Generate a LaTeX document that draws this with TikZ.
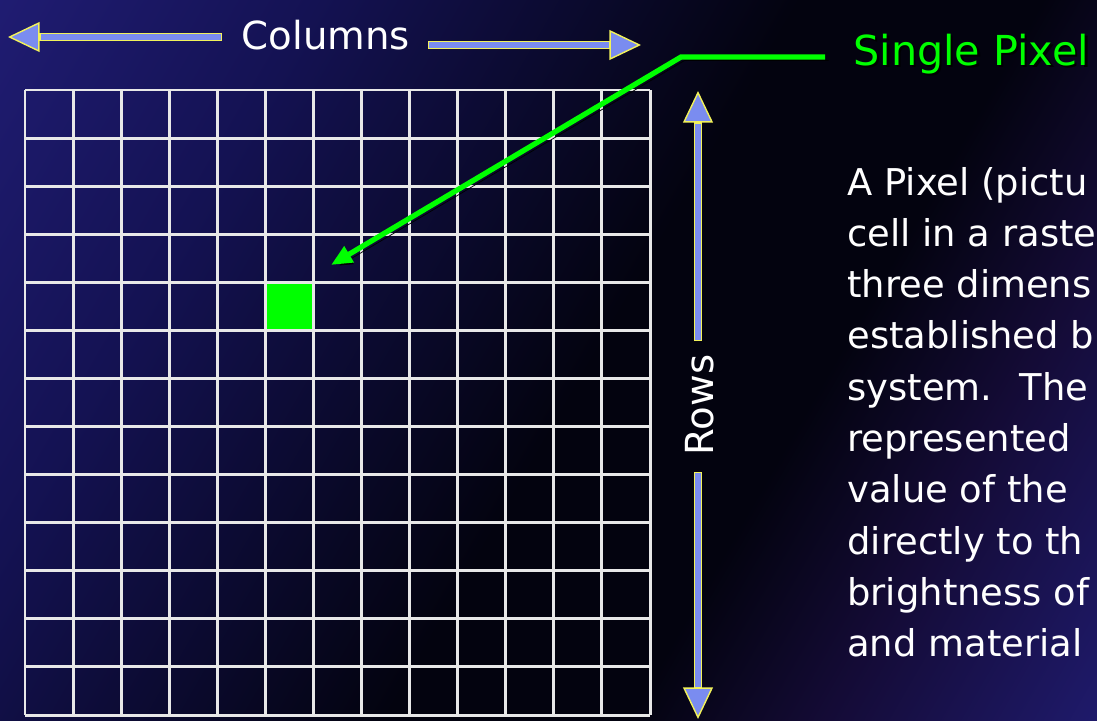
\documentclass[tikz,border=0pt]{standalone}
\usepackage{fontspec}
\setmainfont{DejaVu Sans}
\usetikzlibrary{arrows.meta, calc, positioning}
\definecolor{bgNavy}{HTML}{24207E}
\definecolor{bgMid}{HTML}{141253}
\definecolor{bgDeep}{HTML}{03030F}
\definecolor{bgPurp}{HTML}{140B36}
\definecolor{bgEnd}{HTML}{201C72}
\definecolor{gridWhite}{HTML}{E8E8E8}
\definecolor{pixGreen}{HTML}{00FF00}
\definecolor{arrBlue}{HTML}{7A8CF0}
\definecolor{arrYellow}{HTML}{F2F25A}
\pgfdeclarehorizontalshading{slidebg}{100bp}{color(0bp)=(bgNavy); color(10bp)=(bgNavy); color(30bp)=(bgMid); color(52bp)=(bgDeep); color(63bp)=(bgDeep); color(72bp)=(bgPurp); color(86bp)=(bgEnd); color(100bp)=(bgEnd)}
\tikzset{
  fatarrow/.style  = {arrYellow, line width=4.8pt,
                      -{Triangle[length=18pt, width=17pt, fill=arrBlue, line width=0.8pt]},
                      postaction={draw=arrBlue, line width=3.2pt, -, shorten >=18.5pt, shorten <=0.8pt}},
  gridline/.style  = {gridWhite, line width=1.7pt},
  pixcell/.style   = {fill=pixGreen, minimum size=0.96cm, inner sep=0pt},
  pointer/.style   = {pixGreen, line width=3pt, line join=miter,
                      -{Triangle[length=12pt, width=10pt]},
                      preaction={draw=black, transform canvas={shift={(2pt,-2pt)}}}},
  bigtxt/.style    = {font=\fontsize{22}{26}\selectfont, white, inner sep=0pt},
  greentxt/.style  = {font=\fontsize{23.5}{28}\selectfont, pixGreen, inner sep=0pt},
  para/.style      = {font=\fontsize{21}{29}\selectfont, white, inner sep=0pt, anchor=base west},
}

\begin{document}
\begin{tikzpicture}[x=0.02cm, y=-0.02cm]
\useasboundingbox (0,0) rectangle (1097,720);
\clip (0,0) rectangle (1097,720);
\shade[shading=slidebg, shading angle=-30] (0,0) rectangle (1097,720);

% ---- the raster: 13 x 13 cells, one of them lit ---------------------------
\node[pixcell] (pix) at (289.4,306.3) {};
\foreach \k in {0,...,13} {
  \draw[gridline] (25+\k*48.077,90) -- (25+\k*48.077,715);
  \draw[gridline] (25,90+\k*48.077) -- (650,90+\k*48.077);
}

% ---- columns across the top ---------------------------------------------
\node[bigtxt, anchor=base] (cols) at (326,49) {Columns};
\coordinate (colLtail) at (222,37);
\coordinate (colLtip)  at (8,37);
\coordinate (colRtail) at (428,45);
\coordinate (colRtip)  at (641,45);
\draw[fatarrow] (colLtail) -- (colLtip);
\draw[fatarrow] (colRtail) -- (colRtip);

% ---- rows down the side ---------------------------------------------------
\node[bigtxt, rotate=90] (rows) at (700,405) {Rows};
\coordinate (rowUtail) at (698,341);
\coordinate (rowUtip)  at (698,91);
\coordinate (rowDtail) at (698,472);
\coordinate (rowDtip)  at (698,719);
\draw[fatarrow] (rowUtail) -- (rowUtip);
\draw[fatarrow] (rowDtail) -- (rowDtip);

% ---- single pixel call-out ------------------------------------------------
\node[greentxt, black, anchor=base west] (singleShadow) at (855.5,67.5) {Single Pixel};
\node[greentxt, anchor=base west] (single) at (853,65) {Single Pixel};
\coordinate (lead)   at (825,57);
\coordinate (knee)   at (681,57);
\coordinate (pixtip) at (331,265);
\draw[pointer] (lead) -- (knee) -- (pixtip);

% ---- explanation, running off the right edge -----------------------------
\foreach \t [count=\i from 0] in {A Pixel (pictu, cell in a raste, three dimens,
    established b, system.~ The, represented, value of the, directly to th,
    brightness of, and material} {
  \node[para] (line\i) at (847,195+\i*51.3) {\t};
}

\end{tikzpicture}
\end{document}
